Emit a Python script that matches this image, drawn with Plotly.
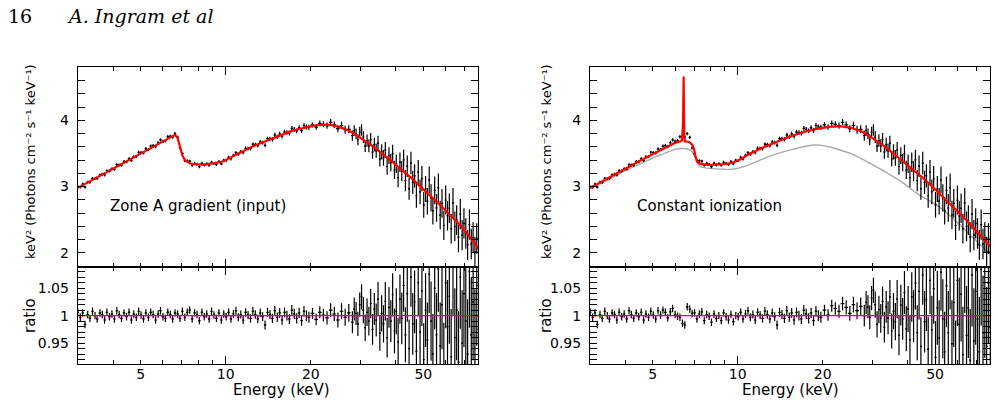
import numpy as np
import plotly.graph_objects as go

# ---------------- data ----------------
energy = [3.00, 3.06, 3.12, 3.18, 3.25, 3.31, 3.38, 3.45, 3.51, 3.59,
          3.66, 3.73, 3.80, 3.88, 3.96, 4.04, 4.12, 4.20, 4.28, 4.37,
          4.46, 4.55, 4.64, 4.73, 4.83, 4.92, 5.02, 5.12, 5.22, 5.33,
          5.43, 5.54, 5.65, 5.77, 5.88, 6.00, 6.12, 6.24, 6.37, 6.49,
          6.62, 6.76, 6.89, 7.03, 7.17, 7.31, 7.46, 7.61, 7.76, 7.92,
          8.07, 8.24, 8.40, 8.57, 8.74, 8.91, 9.09, 9.27, 9.46, 9.65,
          9.84, 10.04, 10.24, 10.44, 10.65, 10.87, 11.08, 11.31, 11.53, 11.76,
          12.00, 12.24, 12.48, 12.73, 12.99, 13.25, 13.51, 13.78, 14.06, 14.34,
          14.63, 14.92, 15.22, 15.52, 15.83, 16.15, 16.47, 16.80, 17.14, 17.48,
          17.83, 18.19, 18.55, 18.92, 19.30, 19.69,
          20.28, 20.89, 21.52, 22.16, 22.83, 23.51, 24.22, 24.94, 25.69, 26.46,
          27.26,
          28.07, 28.49, 28.92, 29.35, 29.79, 30.24, 30.69, 31.15, 31.62, 32.10,
          32.58, 33.07, 33.56, 34.07, 34.58, 35.10, 35.62, 36.16, 36.70, 37.25,
          37.81, 38.38, 38.95, 39.54, 40.13, 40.73, 41.34, 41.96, 42.59, 43.23,
          43.88, 44.54, 45.21, 45.89, 46.58, 47.27, 47.98, 48.70, 49.43, 50.18,
          50.93, 51.69, 52.47, 53.26, 54.06, 54.87, 55.69, 56.53, 57.38, 58.24,
          59.11, 60.00, 60.90, 61.81, 62.74, 63.68, 64.64, 65.61, 66.59, 67.59,
          68.60, 69.63, 70.68, 71.74, 72.81, 73.91, 75.01, 76.14, 77.28, 78.44]

# Zone A gradient model (keV^2 F), at the bin energies
model_zoneA = [2.98, 3.00, 3.02, 3.04, 3.06, 3.08, 3.10, 3.12, 3.14, 3.16,
               3.18, 3.20, 3.22, 3.24, 3.26, 3.28, 3.30, 3.32, 3.34, 3.36,
               3.38, 3.40, 3.42, 3.44, 3.46, 3.49, 3.51, 3.53, 3.55, 3.57,
               3.59, 3.61, 3.63, 3.65, 3.67, 3.69, 3.71, 3.73, 3.75, 3.77,
               3.78, 3.73, 3.60, 3.47, 3.40, 3.37, 3.35, 3.34, 3.335, 3.33,
               3.33, 3.33, 3.33, 3.335, 3.34, 3.34, 3.345, 3.35, 3.36, 3.37,
               3.385, 3.40, 3.42, 3.44, 3.46, 3.48, 3.50, 3.52, 3.54, 3.555,
               3.57, 3.59, 3.61, 3.625, 3.64, 3.655, 3.67, 3.685, 3.70, 3.715,
               3.73, 3.745, 3.76, 3.775, 3.79, 3.80, 3.815, 3.83, 3.84, 3.85,
               3.86, 3.87, 3.88, 3.89, 3.90, 3.905,
               3.915, 3.925, 3.93, 3.935, 3.935, 3.93, 3.92, 3.905, 3.89, 3.87,
               3.845,
               3.815, 3.80, 3.78, 3.763, 3.745, 3.727, 3.71, 3.69, 3.67, 3.65,
               3.63, 3.61, 3.59, 3.57, 3.55, 3.53, 3.51, 3.485, 3.463, 3.44,
               3.417, 3.395, 3.37, 3.345, 3.318, 3.294, 3.27, 3.248, 3.225, 3.203,
               3.18, 3.158, 3.135, 3.11, 3.085, 3.06, 3.035, 3.01, 2.985, 2.96,
               2.935, 2.91, 2.883, 2.857, 2.83, 2.803, 2.775, 2.748, 2.72, 2.692,
               2.665, 2.637, 2.61, 2.582, 2.554, 2.526, 2.498, 2.47, 2.443, 2.415,
               2.385, 2.35, 2.315, 2.28, 2.245, 2.21, 2.175, 2.14, 2.10, 2.065]

# 1-sigma fractional errors of the data
ratio_err = [0.0068, 0.0068, 0.0068, 0.0068, 0.0068, 0.0068, 0.0068, 0.0068, 0.0068, 0.0068,
             0.0068, 0.0068, 0.0068, 0.0068, 0.0068, 0.0068, 0.0068, 0.0068, 0.0068, 0.0068,
             0.0068, 0.0068, 0.0068, 0.0068, 0.0068, 0.0068, 0.0068, 0.0068, 0.0068, 0.0068,
             0.0068, 0.0068, 0.0068, 0.0068, 0.0068, 0.0068, 0.0068, 0.0068, 0.0068, 0.0068,
             0.0068, 0.0068, 0.0068, 0.0068, 0.0068, 0.0068, 0.0068, 0.0068, 0.0068, 0.0068,
             0.0068, 0.0068, 0.0068, 0.0068, 0.0068, 0.0068, 0.0068, 0.0068, 0.0068, 0.0068,
             0.0068,
             0.0070, 0.0070, 0.0071, 0.0071, 0.0072, 0.0072, 0.0073, 0.0073, 0.0074, 0.0074,
             0.0075, 0.0076, 0.0077, 0.0078, 0.0079, 0.0080, 0.0081, 0.0082, 0.0083, 0.0084,
             0.0085, 0.0086, 0.0087, 0.0088, 0.0089, 0.0090, 0.0091, 0.0092, 0.0093, 0.0094,
             0.0095, 0.0096, 0.0097, 0.0098, 0.0099,
             0.0100, 0.0105, 0.0110, 0.0115, 0.0120, 0.0125, 0.0130, 0.0135, 0.0145, 0.0155,
             0.016,
             0.020, 0.021, 0.021, 0.022, 0.022, 0.023, 0.024, 0.024, 0.025, 0.026,
             0.027, 0.028, 0.029, 0.030, 0.031, 0.032, 0.033, 0.034, 0.035, 0.036,
             0.037, 0.038, 0.039, 0.041, 0.042, 0.044, 0.045, 0.047, 0.048, 0.050,
             0.051, 0.053, 0.054, 0.056, 0.057, 0.059, 0.061, 0.062, 0.064, 0.066,
             0.067, 0.069, 0.070, 0.072, 0.073, 0.075, 0.076, 0.078, 0.079, 0.081,
             0.082, 0.083, 0.085, 0.086, 0.087, 0.089, 0.090, 0.091, 0.093, 0.094,
             0.096, 0.097, 0.099, 0.100, 0.102, 0.104, 0.106, 0.108, 0.110, 0.112]

# data / Zone A model
ratio_zoneA = [1.006, 0.997, 1.005, 0.984, 1.002, 0.995, 1.008, 1.000, 0.994, 1.005,
               1.002, 0.992, 1.006, 0.998, 1.003, 0.994, 1.009, 1.002, 0.995, 1.005,
               0.998, 1.006, 0.992, 1.003, 0.997, 1.008, 1.001, 0.994, 1.005, 0.997,
               1.006, 1.002, 0.992, 1.003, 1.009, 0.998, 0.995, 1.006, 1.002, 0.994,
               1.005, 1.003, 0.995, 1.008, 0.997, 1.006, 1.010, 0.994, 1.005, 1.002,
               0.991, 1.006, 0.998, 1.003, 0.994, 1.008, 1.001, 0.995, 1.005, 0.992,
               1.003, 0.998, 1.006, 0.994, 1.003, 1.009, 0.997, 1.002, 0.992, 1.006,
               1.001, 0.995, 1.008, 1.002, 0.994, 1.005, 0.998, 0.983, 1.006, 1.002,
               0.995, 1.009, 0.997, 1.005, 0.992, 1.006, 1.000, 0.994, 1.010, 1.003,
               0.995, 1.005, 0.991, 1.008, 1.000, 0.997,
               1.004, 0.993, 1.006, 1.001, 0.996, 1.010, 1.003, 0.992, 1.008, 0.997,
               1.005,
               0.988, 1.012, 1.004, 0.985, 1.020, 1.034, 1.010, 0.978, 1.006, 0.990,
               1.022, 0.975, 1.012, 0.992, 1.030, 0.968, 1.004, 0.985, 1.026, 0.960,
               1.015, 0.990, 1.038, 0.972, 1.008, 0.952, 1.030, 0.995, 1.055, 0.965,
               1.040, 0.940, 1.070, 0.985, 1.025, 0.935, 1.060, 0.970, 1.045, 0.920,
               1.010, 0.955, 1.075, 0.990, 0.930, 1.050, 0.965, 1.085, 0.945, 1.020,
               0.905, 1.060, 0.980, 1.035, 0.925, 1.090, 0.960, 1.010, 0.915, 1.070,
               0.950, 1.040, 0.990, 0.930, 1.080, 0.965, 1.025, 0.940, 1.055, 0.975]

# data / constant-ionization model
ratio_const = [1.006, 0.997, 1.005, 0.984, 1.002, 0.995, 1.008, 1.000, 0.994, 1.005,
               1.002, 0.992, 1.006, 0.998, 1.003, 0.994, 1.009, 1.002, 0.995, 1.005,
               0.998, 1.006, 0.992, 1.003, 0.997, 1.008, 1.001, 0.994, 1.009, 1.001,
               1.010, 1.006, 0.996, 1.007, 1.013, 1.002, 0.999, 0.997, 0.986, 0.983,
               1.016, 1.012, 1.004, 1.005, 0.994, 1.003, 1.007, 0.991, 1.002, 0.999,
               0.988, 1.003, 0.995, 1.000, 0.991, 1.005, 0.998, 0.992, 1.002, 0.989,
               1.000, 0.998, 1.006, 0.994, 1.003, 1.009, 0.997, 1.002, 0.992, 1.006,
               1.001, 0.995, 1.008, 1.002, 0.994, 1.005, 0.998, 0.983, 1.006, 1.002,
               0.995, 1.009, 0.997, 1.005, 0.992, 1.006, 1.000, 0.994, 1.010, 1.003,
               0.995, 1.005, 0.991, 1.008, 1.000, 0.997,
               1.010, 1.001, 1.018, 1.013, 1.008, 1.022, 1.015, 1.004, 1.020, 1.009,
               1.017,
               1.000, 1.024, 1.016, 0.997, 1.032, 1.046, 1.020, 0.984, 1.011, 0.995,
               1.026, 0.979, 1.016, 0.996, 1.034, 0.972, 1.008, 0.989, 1.030, 0.964,
               1.019, 0.994, 1.042, 0.976, 1.012, 0.956, 1.034, 0.999, 1.059, 0.969,
               1.044, 0.944, 1.074, 0.989, 1.029, 0.939, 1.064, 0.974, 1.049, 0.924,
               1.014, 0.959, 1.079, 0.994, 0.934, 1.054, 0.969, 1.089, 0.949, 1.024,
               0.909, 1.064, 0.984, 1.039, 0.929, 1.094, 0.964, 1.014, 0.919, 1.074,
               0.954, 1.044, 0.994, 0.934, 1.084, 0.969, 1.029, 0.944, 1.059, 0.979]

# constant-ionization model curve (with narrow Fe line)
const_E = [3.0, 3.5, 4.0, 4.5, 5.0, 5.5, 6.0, 6.25, 6.35, 6.40, 6.43, 6.46, 6.50,
           6.6, 6.75, 6.9, 7.0, 7.1, 7.2, 7.35, 7.6, 8.0, 8.5, 9.0, 9.5, 10.0,
           11.0, 12.0, 13.5, 15.0, 17.0, 19.0, 21.0, 23.0, 25.0, 27.5, 30.0,
           33.0, 36.0, 40.0, 45.0, 50.0, 55.0, 60.0, 65.0, 70.0, 79.0]
const_model = [2.98, 3.13, 3.27, 3.39, 3.49, 3.58, 3.66, 3.68, 3.70, 3.95, 4.66, 3.76, 3.68,
               3.68, 3.67, 3.63, 3.56, 3.44, 3.37, 3.345, 3.33, 3.325, 3.33, 3.34, 3.355, 3.39,
               3.49, 3.57, 3.66, 3.74, 3.82, 3.87, 3.90, 3.91, 3.89, 3.83, 3.73,
               3.61, 3.48, 3.32, 3.14, 2.96, 2.79, 2.63, 2.48, 2.33, 2.08]

# continuum (no reflection features) curve
cont_E = [3.0, 3.5, 4.0, 4.5, 5.0, 5.5, 6.0, 6.4, 6.8, 7.0, 7.15, 7.3, 7.6, 8.2, 9.0,
          9.6, 10.5, 12.0, 13.0, 15.6, 18.0, 19.5, 21.0, 22.3, 25.0, 28.0, 30.0,
          34.0, 38.4, 43.0, 50.3, 56.0, 62.0, 68.0, 76.6, 79.0]
cont_model = [2.96, 3.11, 3.24, 3.34, 3.43, 3.50, 3.56, 3.575, 3.55, 3.48, 3.38, 3.31, 3.285, 3.27, 3.26,
              3.26, 3.30, 3.40, 3.46, 3.56, 3.62, 3.625, 3.60, 3.57, 3.50, 3.40, 3.33,
              3.20, 3.06, 2.90, 2.73, 2.57, 2.40, 2.23, 2.02, 1.97]

x_range_keV = [2.996, 78.26]
spec_yticks = [2, 3, 4]
ratio_yticks = [0.95, 1.0, 1.05]
ratio_yticktext = ["0.95", "1", "1.05"]
xtick_vals = [5, 10, 20, 50]
xminor_vals = [3, 4, 6, 7, 8, 9, 30, 40, 60, 70]

n = len(energy)
assert len(model_zoneA) == n and len(ratio_err) == n
assert len(ratio_zoneA) == n and len(ratio_const) == n
assert len(const_E) == len(const_model) and len(cont_E) == len(cont_model)

E = np.array(energy)
half_width = np.gradient(E) / 2.0
mA = np.array(model_zoneA)
spec = mA * np.array(ratio_zoneA)
spec_err = mA * np.array(ratio_err)

FONT = "DejaVu Sans"
fig = go.Figure()


def data_trace(y, err, xa, ya):
    return go.Scatter(
        x=E, y=y, mode="markers", xaxis=xa, yaxis=ya,
        marker=dict(size=1.5, color="black"),
        error_x=dict(type="data", array=half_width, symmetric=True,
                     thickness=1.2, width=0, color="black"),
        error_y=dict(type="data", array=err, symmetric=True,
                     thickness=1.2, width=0, color="black"),
        showlegend=False, hoverinfo="skip")


# left column
fig.add_trace(data_trace(spec, spec_err, "x", "y"))
fig.add_trace(go.Scatter(x=E, y=mA, mode="lines", xaxis="x", yaxis="y",
                         line=dict(color="red", width=2.2), showlegend=False))
fig.add_trace(data_trace(ratio_zoneA, ratio_err, "x2", "y2"))
fig.add_trace(go.Scatter(x=x_range_keV, y=[1, 1], mode="lines", xaxis="x2", yaxis="y2",
                         line=dict(color="red", width=1.3), showlegend=False))

# right column
fig.add_trace(go.Scatter(x=cont_E, y=cont_model, mode="lines", xaxis="x3", yaxis="y3",
                         line=dict(color="#a8a8a8", width=1.4, shape="spline", smoothing=0.6),
                         showlegend=False))
fig.add_trace(data_trace(spec, spec_err, "x3", "y3"))
fig.add_trace(go.Scatter(x=const_E, y=const_model, mode="lines", xaxis="x3", yaxis="y3",
                         line=dict(color="red", width=2.2), showlegend=False))
fig.add_trace(data_trace(ratio_const, ratio_err, "x4", "y4"))
fig.add_trace(go.Scatter(x=x_range_keV, y=[1, 1], mode="lines", xaxis="x4", yaxis="y4",
                         line=dict(color="red", width=1.3), showlegend=False))

# dummy traces so the overlay (long decade tick) axes are drawn
for xa, ya in [("x5", "y"), ("x6", "y2"), ("x7", "y3"), ("x8", "y4")]:
    fig.add_trace(go.Scatter(x=[], y=[], xaxis=xa, yaxis=ya, showlegend=False))

xl = [77.7 / 997, 478.3 / 997]
xr = [590.0 / 997, 990.0 / 997]
y_top = [1 - 266.7 / 412, 1 - 67.3 / 412]
y_bot = [1 - 364.0 / 412, 1 - 266.7 / 412]
lr = [np.log10(x_range_keV[0]), np.log10(x_range_keV[1])]

tickfont = dict(family=FONT, size=14, color="black")


def xaxis(domain, anchor, labels):
    return dict(domain=domain, anchor=anchor, type="log", range=lr,
                showline=True, linecolor="black", linewidth=1, mirror="allticks",
                ticks="inside", ticklen=4, tickwidth=1, tickcolor="black",
                tickmode="array", tickvals=xtick_vals,
                ticktext=[str(v) for v in xtick_vals],
                showticklabels=labels, tickfont=tickfont, ticklabelstandoff=-3,
                minor=dict(tickmode="array", tickvals=xminor_vals, ticks="inside",
                           ticklen=4, tickwidth=1, tickcolor="black", showgrid=False),
                showgrid=False, zeroline=False)


def overlay_x(base, anchor):
    return dict(overlaying=base, anchor=anchor, type="log", range=lr,
                showline=False, mirror="allticks", ticks="inside", ticklen=8,
                tickwidth=1, tickcolor="black", tickmode="array", tickvals=[10],
                showticklabels=False, showgrid=False, zeroline=False)


def yaxis_spec(domain, anchor):
    return dict(domain=domain, anchor=anchor, range=[1.79, 4.80],
                showline=True, linecolor="black", linewidth=1, mirror="allticks",
                ticks="inside", ticklen=7, tickwidth=1, tickcolor="black",
                tickmode="array", tickvals=spec_yticks,
                ticktext=[str(v) for v in spec_yticks],
                tickfont=tickfont, ticklabelstandoff=5,
                minor=dict(dtick=0.2, tick0=2, ticks="inside", ticklen=4,
                           tickwidth=1, tickcolor="black", showgrid=False),
                showgrid=False, zeroline=False)


def yaxis_ratio(domain, anchor):
    return dict(domain=domain, anchor=anchor, range=[0.912, 1.089],
                showline=True, linecolor="black", linewidth=1, mirror="allticks",
                ticks="inside", ticklen=7, tickwidth=1, tickcolor="black",
                tickmode="array", tickvals=ratio_yticks, ticktext=ratio_yticktext,
                tickfont=tickfont, ticklabelstandoff=5,
                minor=dict(dtick=0.01, tick0=0.9, ticks="inside", ticklen=4,
                           tickwidth=1, tickcolor="black", showgrid=False),
                showgrid=False, zeroline=False)


ytitle = "keV² (Photons cm⁻² s⁻¹ keV⁻¹)"
ann = []
for xc_title, xc_left, label in [(30, 108.3, "Zone A gradient (input)"),
                                 (546, 635.0, "Constant ionization")]:
    ann.append(dict(x=xc_title / 997, y=1 - 162 / 412, xref="paper", yref="paper",
                    text=ytitle, textangle=-90, showarrow=False,
                    font=dict(family=FONT, size=13, color="black"),
                    xanchor="center", yanchor="middle"))
    ann.append(dict(x=xc_title / 997, y=1 - 316 / 412, xref="paper", yref="paper",
                    text="ratio", textangle=-90, showarrow=False,
                    font=dict(family=FONT, size=15, color="black"),
                    xanchor="center", yanchor="middle"))
    ann.append(dict(x=xc_left / 997, y=1 - 206 / 412, xref="paper", yref="paper",
                    text=label, showarrow=False,
                    font=dict(family=FONT, size=15, color="black"),
                    xanchor="left", yanchor="middle"))
for xc in [281, 790]:
    ann.append(dict(x=xc / 997, y=1 - 389.5 / 412, xref="paper", yref="paper",
                    text="Energy (keV)", showarrow=False,
                    font=dict(family=FONT, size=15, color="black"),
                    xanchor="center", yanchor="middle"))
ann.append(dict(x=6 / 997, y=1 - 15.5 / 412, xref="paper", yref="paper", text="16",
                showarrow=False, font=dict(family="DejaVu Serif", size=19, color="black"),
                xanchor="left", yanchor="middle"))
ann.append(dict(x=65 / 997, y=1 - 15.5 / 412, xref="paper", yref="paper",
                text="<i>A. Ingram et al</i>", showarrow=False,
                font=dict(family="DejaVu Serif", size=19, color="black"),
                xanchor="left", yanchor="middle"))

fig.update_layout(
    width=997, height=412, margin=dict(l=0, r=0, t=0, b=0),
    paper_bgcolor="white", plot_bgcolor="white", showlegend=False,
    xaxis=xaxis(xl, "y", False), yaxis=yaxis_spec(y_top, "x"),
    xaxis2=xaxis(xl, "y2", True), yaxis2=yaxis_ratio(y_bot, "x2"),
    xaxis3=xaxis(xr, "y3", False), yaxis3=yaxis_spec(y_top, "x3"),
    xaxis4=xaxis(xr, "y4", True), yaxis4=yaxis_ratio(y_bot, "x4"),
    xaxis5=overlay_x("x", "y"), xaxis6=overlay_x("x2", "y2"),
    xaxis7=overlay_x("x3", "y3"), xaxis8=overlay_x("x4", "y4"),
    annotations=ann,
)

fig.write_html("out.html")
